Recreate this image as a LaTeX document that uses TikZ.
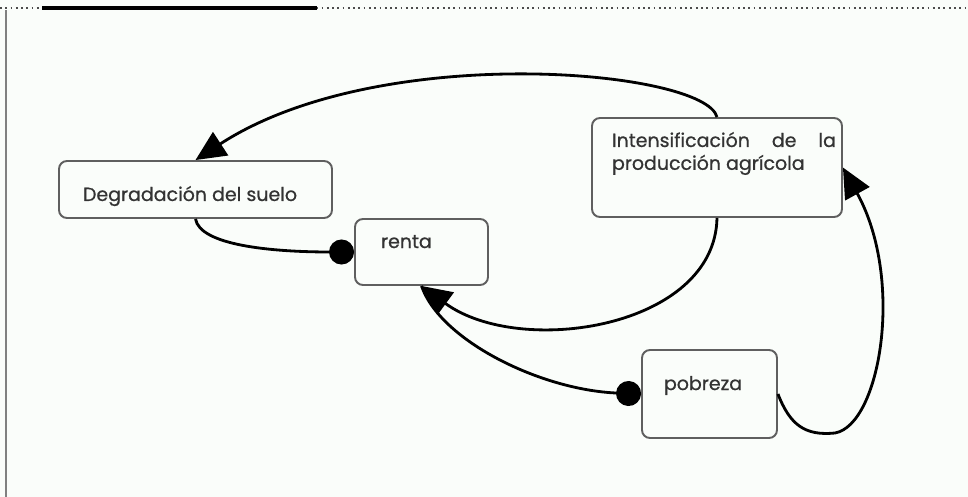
\documentclass[tikz,border=0pt]{standalone}
\usepackage{fontspec}
\setmainfont{Poppins}[UprightFeatures={FakeBold=0.7}]
\usetikzlibrary{arrows.meta}
\definecolor{fondo}{RGB}{250,253,250}
\definecolor{borde}{RGB}{95,95,95}
\tikzset{
    caja/.style={
           rectangle,
           rounded corners=4.5pt,
           draw=borde, line width=1.1pt,
           fill=fondo,
           inner sep=0pt,
           text=black!80,
           },
    enlace/.style={line width=1.6pt, black},
}

\begin{document}
\begin{tikzpicture}[x=0.02cm, y=-0.02cm,
  >={Triangle[length=0.6cm,width=0.55cm]},
  font=\fontsize{10.8}{13}\selectfont]

 % fondo y marco de la captura
 \fill[fondo] (0,0) rectangle (968,497);
 \useasboundingbox (0,0) rectangle (968,497);
 \draw[black!70, dotted, line width=1pt] (0,8) -- (968,8);
 \draw[black, line width=2pt] (42,8) -- (317,8);
 \draw[gray, line width=1pt] (6,10) -- (6,497);

 % cajas: parbox para fijar tamano y posicion del texto
 \node[caja] (Degradacion) at (195.5,189.5)
 {\parbox[c][1.14cm][t]{5.46cm}{\vspace*{0.5cm}\leftskip=0.48cm
  Degradación del suelo}};

 \node[caja] (renta) at (421.5,252)
 {\parbox[c][1.32cm][t]{2.66cm}{\vspace*{0.32cm}\leftskip=0.52cm
  renta}};

 \node[caja] (Intensificacion) at (717,167.5)
 {\parbox[c][1.98cm][t]{5cm}{\vspace*{0.28cm}\leftskip=0.4cm \rightskip=0.12cm
  Intensificación de la\linebreak producción agrícola}};

 \node[caja] (pobreza) at (709.5,394)
 {\parbox[c][1.76cm][t]{2.7cm}{\vspace*{0.52cm}\leftskip=0.44cm
  pobreza}};

 % enlaces
 \draw[enlace, ->] (Intensificacion.north)
   .. controls (705,70) and (380,40) .. (Degradacion.north);
 \draw[enlace, -{Circle[length=0.5cm]}] (Degradacion.south)
   .. controls (200,245) and (270,252) .. (renta.west);
 \draw[enlace, ->] (Intensificacion.south)
   .. controls (715,328) and (520,358) .. (renta.south);
 \draw[enlace, -{Circle[length=0.5cm]}] (renta.south)
   .. controls (440,340) and (540,390) .. (pobreza.west);
 \draw[enlace, ->] (pobreza.east)
   .. controls (790,425) and (805,436) .. (835,433)
   .. controls (880,425) and (905,280) .. (Intensificacion.east);

\end{tikzpicture}
\end{document}
